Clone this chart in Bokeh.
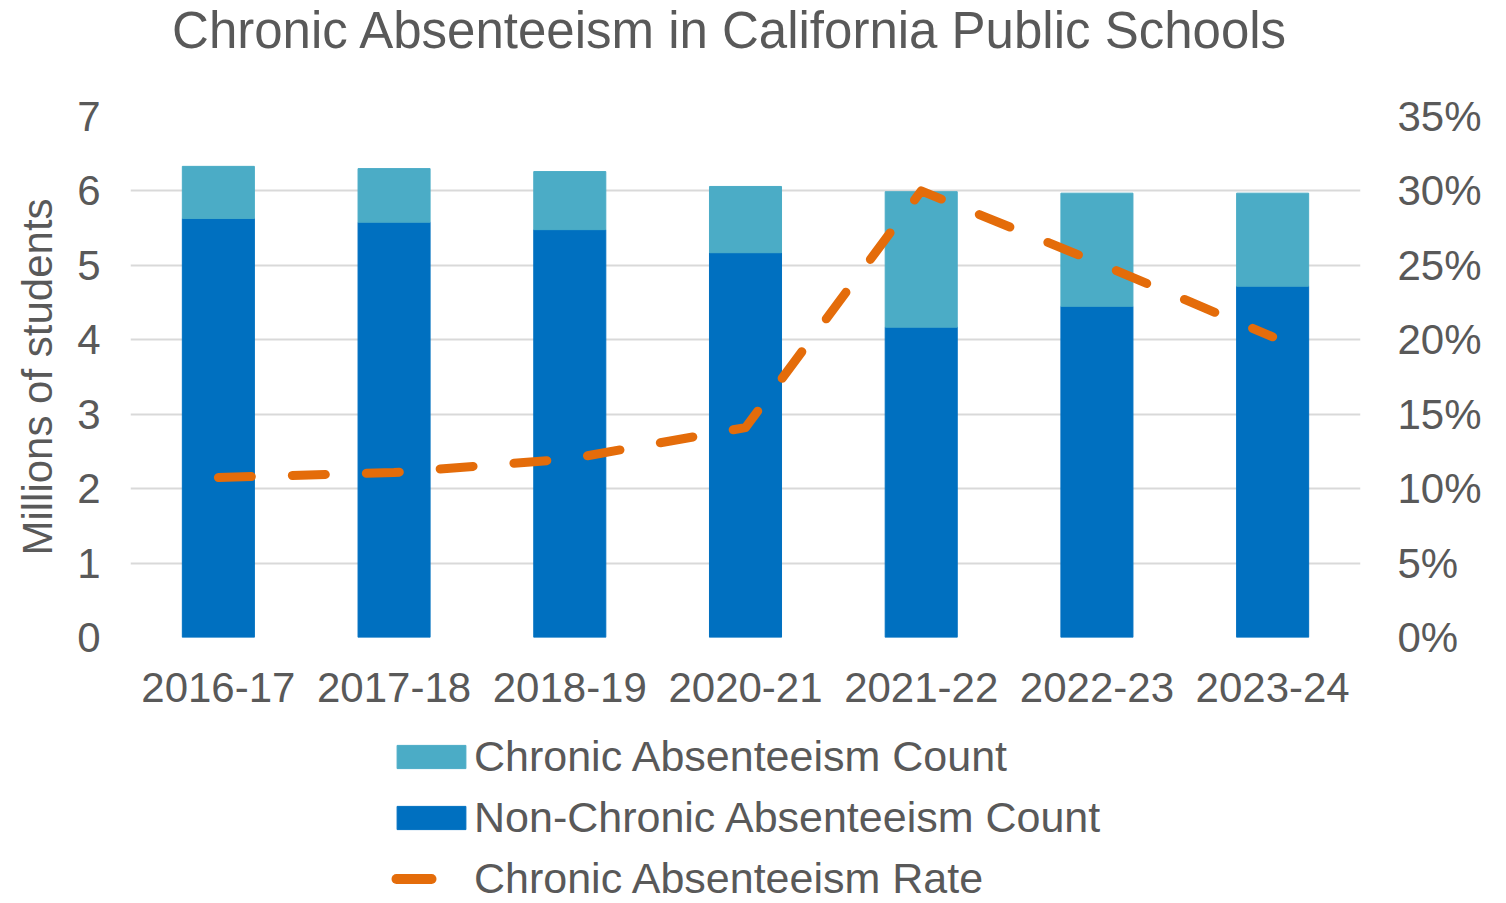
from bokeh.plotting import figure
from bokeh.layouts import column
from bokeh.models import (Range1d, LinearAxis, FixedTicker, NumeralTickFormatter,
                          Legend, LegendItem, ColumnDataSource, Label)
from bokeh.embed import file_html
from bokeh.resources import INLINE

years = ["2016-17", "2017-18", "2018-19", "2020-21", "2021-22", "2022-23", "2023-24"]
non_chronic = [5.63, 5.58, 5.48, 5.17, 4.17, 4.45, 4.72]
chronic = [0.70, 0.72, 0.78, 0.89, 1.82, 1.52, 1.25]
rate = [0.1075, 0.1108, 0.120, 0.141, 0.300, 0.252, 0.202]
left_ticks = [0, 1, 2, 3, 4, 5, 6, 7]
right_ticks = [0, 0.05, 0.10, 0.15, 0.20, 0.25, 0.30, 0.35]
title_text = "Chronic Absenteeism in California Public Schools"
labels = ["Chronic Absenteeism Count", "Non-Chronic Absenteeism Count", "Chronic Absenteeism Rate"]

DARK = "#0070C0"
LIGHT = "#4BACC6"
ORANGE = "#E46C0A"
TXT = "#595959"
FONT = "Liberation Sans"

# ---- title strip ----
t = figure(width=1490, height=70, output_backend="svg", toolbar_location=None,
           x_range=Range1d(0, 1), y_range=Range1d(0, 1),
           x_axis_type=None, y_axis_type=None, min_border=0)
t.outline_line_color = None
t.grid.visible = False
t.add_layout(Label(x=600, y=40, x_units="screen", y_units="screen", text=title_text,
                   text_font=FONT, text_font_size="51px", text_color=TXT,
                   text_align="center", text_baseline="middle"))

# ---- main chart ----
p = figure(x_range=years, y_range=Range1d(0, 7), width=1490, height=663,
           output_backend="svg", toolbar_location=None,
           min_border_left=130, min_border_right=130, min_border_top=46,
           min_border_bottom=96)
p.extra_y_ranges = {"rate": Range1d(0, 0.35)}

src = ColumnDataSource(dict(years=years, non=non_chronic, chronic=chronic, rate=rate))
bars = p.vbar_stack(["non", "chronic"], x="years", width=0.41, source=src,
                    fill_color=[DARK, LIGHT], line_color=[DARK, LIGHT], line_width=1)
ln = p.line(x="years", y="rate", source=src, y_range_name="rate", line_color=ORANGE,
            line_width=9, line_dash="33 41", line_cap="round", line_join="round")

p.outline_line_color = None
p.xgrid.grid_line_color = None
p.ygrid.grid_line_color = "#d9d9d9"
p.ygrid.grid_line_width = 2

yleft = p.yaxis[0]
yleft.ticker = FixedTicker(ticks=left_ticks)
yleft.axis_label = "Millions of students"

ax2 = LinearAxis(y_range_name="rate", ticker=FixedTicker(ticks=right_ticks),
                 formatter=NumeralTickFormatter(format="0%"))
p.add_layout(ax2, "right")

for ax in [yleft, ax2, p.xaxis[0]]:
    ax.axis_line_color = None
    ax.major_tick_line_color = None
    ax.minor_tick_line_color = None
    ax.major_tick_out = 0
    ax.major_tick_in = 0
    ax.major_label_text_font = FONT
    ax.major_label_text_font_size = "42px"
    ax.major_label_text_color = TXT
    ax.axis_label_text_font = FONT
    ax.axis_label_text_font_size = "42px"
    ax.axis_label_text_font_style = "normal"
    ax.axis_label_text_color = TXT
yleft.major_label_standoff = 30
yleft.axis_label_standoff = 13
ax2.major_label_standoff = 37
p.xaxis[0].major_label_standoff = 35

# ---- legend strip (uses hidden copies of the series for its swatches) ----
q = figure(width=1490, height=170, output_backend="svg", toolbar_location=None,
           x_range=years, y_range=Range1d(0, 7),
           x_axis_type=None, y_axis_type=None, min_border=0)
q.outline_line_color = None
q.grid.visible = False
qsrc = ColumnDataSource(dict(years=years, non=non_chronic, chronic=chronic))
g = q.vbar_stack(["non", "chronic"], x="years", width=0.41, source=qsrc,
                 fill_color=[DARK, LIGHT], line_color=[DARK, LIGHT], line_width=1)
g3 = q.line(x=years, y=non_chronic, line_color=ORANGE, line_width=10,
            line_dash="35 80", line_dash_offset=107, line_cap="round")
for r in list(g) + [g3]:
    r.visible = False

legend = Legend(items=[
    LegendItem(label=labels[0], renderers=[g[1]]),
    LegendItem(label=labels[1], renderers=[g[0]]),
    LegendItem(label=labels[2], renderers=[g3]),
], location=(258, 0), orientation="vertical")
legend.label_text_font = FONT
legend.label_text_font_size = "43px"
legend.label_text_color = TXT
legend.glyph_width = 86
legend.glyph_height = 29
legend.label_standoff = 0
legend.spacing = 12
legend.padding = 0
legend.margin = 0
legend.border_line_color = None
legend.background_fill_alpha = 0
legend.inactive_fill_alpha = 0
q.add_layout(legend, "center")

layout = column(t, p, q, spacing=0)
open("out.html", "w").write(file_html(layout, INLINE))
